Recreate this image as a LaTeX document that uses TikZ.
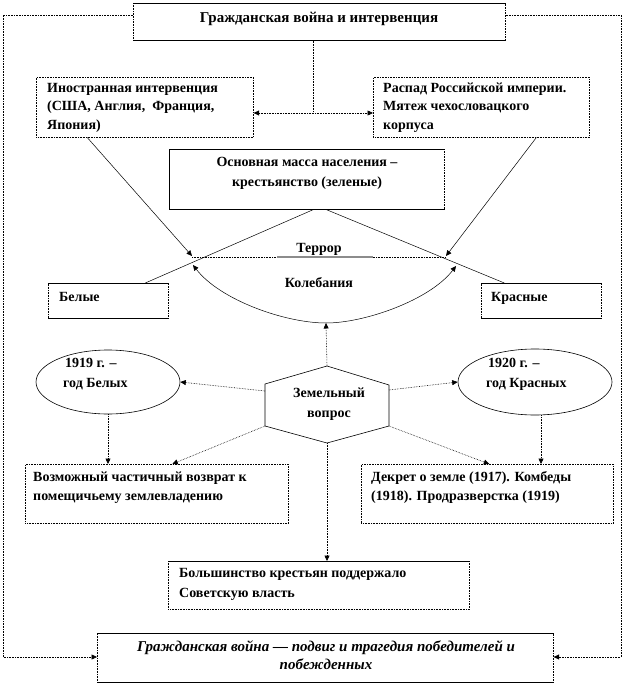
\documentclass[tikz,border=0pt]{standalone}
\usepackage{fontspec}
\setmainfont{Liberation Serif}
\usetikzlibrary{arrows.meta,shapes.geometric}
\begin{document}
\begin{tikzpicture}[x=1pt,y=-1pt,
  box/.style={draw=black, densely dotted, line width=0.6pt, inner sep=0pt, anchor=north west},
  oval/.style={draw=black, ellipse, line width=0.6pt, inner sep=0pt},
  txt/.style={inner sep=0pt, font=\fontsize{14}{18}\selectfont\bfseries},
  bigtxt/.style={inner sep=0pt, font=\fontsize{15}{18}\selectfont\bfseries},
  itxt/.style={inner sep=0pt, font=\fontsize{15}{18}\selectfont\bfseries\itshape},
  dotline/.style={densely dotted, line width=0.6pt},
  solidline/.style={line width=0.5pt},
  tip/.style={-{Triangle[length=5.5pt,width=5pt]}},
  tips/.style={{Triangle[length=5.5pt,width=5pt]}-{Triangle[length=5.5pt,width=5pt]}},
  edge/.style={line width=0.6pt}
]
\fill[white] (0,0) rectangle (626,684);
\useasboundingbox (0,0) rectangle (626,684);

% boxes
\node[box, minimum width=372, minimum height=37] (title) at (133,3) {};
\node[box, minimum width=217, minimum height=60] (inter) at (36,77) {};
\node[box, minimum width=216, minimum height=60] (rasp) at (373,77) {};
\node[box, minimum width=275, minimum height=60] (peas) at (169,149) {};
\node[box, minimum width=120, minimum height=35] (bel) at (48,283) {};
\node[box, minimum width=120, minimum height=35] (kras) at (481,283) {};
\node[box, minimum width=263, minimum height=59] (voz) at (25,464) {};
\node[box, minimum width=252, minimum height=59] (dek) at (361,464) {};
\node[box, minimum width=301, minimum height=48] (bol) at (168,561) {};
\node[box, minimum width=456, minimum height=49] (fin) at (97,633) {};

% solid edges of some boxes
\draw[edge] (title.north west) -- (title.north east) (title.south west) -- (title.south east);
\draw[edge] (peas.south west) -- (peas.north west) -- (peas.north east) (peas.south west) -- (peas.south east);
\draw[edge] (bel.north west) -- (bel.north east) (bel.south west) -- (bel.south east);
\draw[edge] (kras.north west) -- (kras.north east) (kras.south west) -- (kras.south east);
\draw[edge] (bol.north west) -- (bol.north east);
\draw[edge] (fin.north west) -- (fin.north east) (fin.south west) -- (fin.south east);

% ellipses
\node[oval, minimum width=144, minimum height=64] (e19) at (108,382) {};
\node[oval, minimum width=154, minimum height=66] (e20) at (535,382) {};

% hexagon
\draw[edge] (327,366) coordinate (hT) -- (389,385) coordinate (hUR) -- (389,426) coordinate (hLR)
  -- (327,443) coordinate (hB) -- (265,426) coordinate (hLL) -- (265,384) coordinate (hUL) -- cycle;
\coordinate (hL1) at (265,391);
\coordinate (hR1) at (389,390);

% texts
\node[bigtxt, anchor=base] (tTitle) at (319,23) {Гражданская война и интервенция};
\node[txt, anchor=base west] (tI1) at (47,93) {Иностранная интервенция};
\node[txt, anchor=base west] (tI2) at (47,111) {(США, Англия,~ Франция,};
\node[txt, anchor=base west] (tI3) at (47,130) {Япония)};
\node[txt, anchor=base west] (tR1) at (383,93) {Распад Российской империи.};
\node[txt, anchor=base west] (tR2) at (383,111) {Мятеж чехословацкого};
\node[txt, anchor=base west] (tR3) at (383,130) {корпуса};
\node[txt, anchor=base] (tP1) at (307,167) {Основная масса населения –};
\node[txt, anchor=base] (tP2) at (307,187) {крестьянство (зеленые)};
\node[txt, anchor=base] (tTer) at (319,252) {Террор};
\node[txt, anchor=base] (tKol) at (319,287) {Колебания};
\node[txt, anchor=base west] (tBel) at (59,301) {Белые};
\node[txt, anchor=base west] (tKr) at (491,301) {Красные};
\node[txt, anchor=base west] (t19a) at (65,367) {1919 г. –};
\node[txt, anchor=base west] (t19b) at (63,387) {год Белых};
\node[txt, anchor=base west] (t20a) at (488,367) {1920 г. –};
\node[txt, anchor=base west] (t20b) at (486,387) {год Красных};
\node[txt, anchor=base] (tH1) at (329,397) {Земельный};
\node[txt, anchor=base] (tH2) at (329,417) {вопрос};
\node[txt, anchor=base west] (tV1) at (33,481) {Возможный частичный возврат к};
\node[txt, anchor=base west] (tV2) at (33,500) {помещичьему землевладению};
\node[txt, anchor=base west] (tD1) at (371,481) {Декрет о земле (1917). Комбеды};
\node[txt, anchor=base west] (tD2) at (371,500) {(1918). Продразверстка (1919)};
\node[txt, anchor=base west] (tB1) at (179,577) {Большинство крестьян поддержало};
\node[txt, anchor=base west] (tB2) at (179,597) {Советскую власть};
\node[itxt, anchor=base] (tF1) at (326,651) {Гражданская война — подвиг и трагедия победителей и};
\node[itxt, anchor=base] (tF2) at (326,669) {побежденных};

% junction coordinates
\coordinate (mid) at (313,113);
\coordinate (tl) at (192,256);
\coordinate (tr) at (446,256);
\coordinate (al) at (193,265);
\coordinate (ar) at (456,266);
\coordinate (abot) at (326,323);
\coordinate (oLT) at (3,15);
\coordinate (oLB) at (3,657);
\coordinate (oRT) at (621,15);
\coordinate (oRB) at (621,657);
\coordinate (e20s) at ([xshift=6pt]e20.south);

% top structure
\draw[dotline] (title.south -| mid) -- (mid);
\draw[dotline, tips] (inter.east |- mid) -- (rasp.west |- mid);

% outer loop
\draw[dotline, tip] (title.west |- oLT) -- (oLT) -- (oLB) -- (fin.west |- oLB);
\draw[dotline, tip] (title.east |- oRT) -- (oRT) -- (oRB) -- (fin.east |- oRB);

% diagonals to terror line
\draw[solidline, tip] ([xshift=-57.5pt]inter.south) -- (tl);
\draw[solidline, tip] ([xshift=55pt]rasp.south) -- (tr);

% terror line
\draw[dotline] ([yshift=-1pt]tl) -- ([yshift=-1pt]tr);
\draw[black!45, line width=1.2pt] (277,257) -- (373,257);

% peasants to whites / reds
\draw[solidline] ([xshift=6.5pt]peas.south) -- ([xshift=37pt]bel.north);
\draw[solidline] ([xshift=19.5pt]peas.south) -- ([xshift=-37pt]kras.north);

% oscillation arc
\draw[solidline, tip] (abot) .. controls (285,323) and (220,300) .. (al);
\draw[solidline, tip] (abot) .. controls (365,323) and (430,300) .. (ar);

% land question
\draw[dotline, tip] (hT) -- (abot);
\draw[dotline, tip] (hL1) -- (e19.east);
\draw[dotline, tip] (hR1) -- (e20.west);
\draw[dotline, tip] (hLL) -- ([xshift=15.5pt]voz.north);
\draw[dotline, tip] (hLR) -- ([xshift=2pt]dek.north);
\draw[dotline, tip] (e19.south) -- (voz.north -| e19.south);
\draw[dotline, tip] (e20s) -- (dek.north -| e20s);
\draw[dotline, tip] (hB) -- (bol.north -| hB);
\end{tikzpicture}
\end{document}
